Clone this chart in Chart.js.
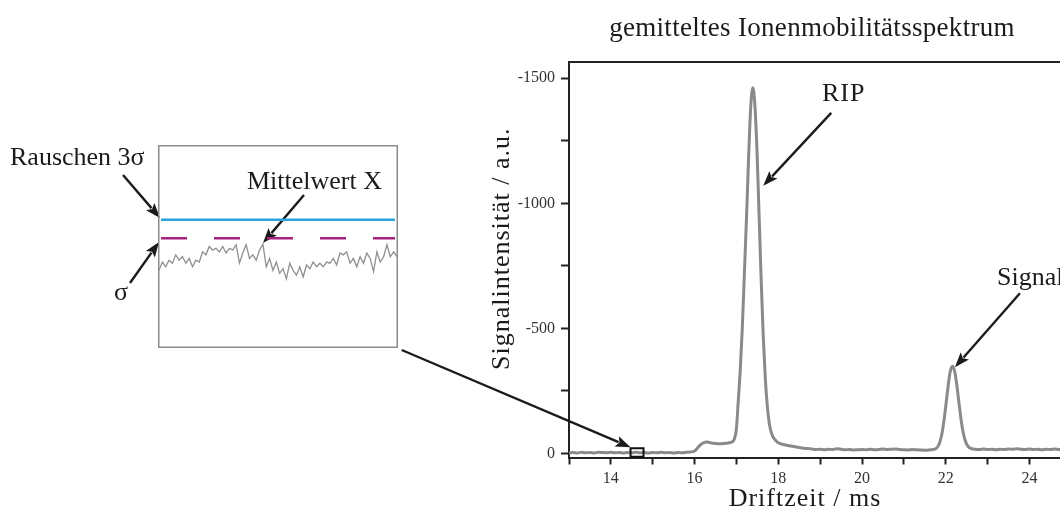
<!DOCTYPE html>
<html lang="de">
<head>
<meta charset="utf-8">
<title>gemitteltes Ionenmobilitätsspektrum</title>
<script src="https://cdn.jsdelivr.net/npm/chart.js@4.4.1/dist/chart.umd.min.js"></script>
<style>
  html, body { margin: 0; padding: 0; background: #fff; }
  #wrap { position: relative; width: 1060px; height: 512px; overflow: hidden; }
  #main { position: absolute; left: 0; top: 0; }
  #inset { position: absolute; left: 158px; top: 145px; }
</style>
</head>
<body>
<div id="wrap">
  <canvas id="main" width="1060" height="512"></canvas>
  <canvas id="inset" width="240" height="203"></canvas>
</div>
<script>
// Averaged ion mobility spectrum: drift time (ms) and signal intensity (a.u.)
const driftTime = [
  13.0, 13.1, 13.2, 13.3, 13.4, 13.5, 13.6, 13.7, 13.8, 13.9,
  14.0, 14.1, 14.2, 14.3, 14.4, 14.5, 14.6, 14.7, 14.8, 14.9,
  15.0, 15.1, 15.2, 15.3, 15.4, 15.5, 15.6, 15.7, 15.8, 15.9,
  16.0, 16.05, 16.1, 16.15, 16.2, 16.25, 16.3, 16.35, 16.4, 16.5,
  16.6, 16.7, 16.8, 16.85, 16.9,
  16.95, 17.0, 17.04, 17.09, 17.14, 17.19, 17.24, 17.29, 17.34, 17.39,
  17.44, 17.49, 17.54, 17.59, 17.64, 17.69, 17.74, 17.79, 17.84, 17.89,
  17.95, 18.0,
  18.1, 18.2, 18.3, 18.4, 18.5, 18.6, 18.7, 18.8, 18.9, 19.0,
  19.1, 19.2, 19.3, 19.4, 19.5, 19.6, 19.7, 19.8, 19.9, 20.0,
  20.1, 20.2, 20.3, 20.4, 20.5, 20.6, 20.7, 20.8, 20.9, 21.0,
  21.1, 21.2, 21.3, 21.4, 21.5, 21.6, 21.65,
  21.7, 21.76, 21.81, 21.86, 21.91, 21.96, 22.01, 22.06, 22.11, 22.16,
  22.21, 22.26, 22.31, 22.36, 22.41, 22.46, 22.51, 22.56, 22.62,
  22.7, 22.8, 22.9, 23.0, 23.1, 23.2, 23.3, 23.4, 23.5, 23.6,
  23.7, 23.8, 23.9, 24.0, 24.1, 24.2, 24.3, 24.4, 24.5, 24.6,
  24.7, 24.8
];
const intensity = [
  -3, -4, -2, -5, -3, -4, -2, -5, -4, -3,
  -5, -3, -4, -2, -4, -3, -5, -3, -4, -2,
  -4, -3, -5, -3, -4, -2, -4, -3, -5, -6,
  -10, -18, -28, -36, -42, -45, -46, -44, -42, -40,
  -39, -40, -42, -44, -47,
  -58, -100, -200, -330, -500, -720, -940, -1180, -1380, -1462,
  -1395, -1215, -960, -700, -470, -300, -185, -115, -80, -62,
  -50, -43,
  -37, -33, -30, -27, -24, -21, -20, -18, -16, -17,
  -15, -17, -16, -19, -17, -15, -16, -14, -15, -16,
  -15, -17, -15, -16, -18, -16, -17, -18, -16, -15,
  -14, -16, -15, -14, -13, -14, -15,
  -16, -19, -27, -46, -80, -134, -202, -273, -329, -349,
  -331, -280, -211, -144, -90, -55, -34, -24, -19,
  -17, -16, -18, -16, -17, -15, -17, -16, -18, -17,
  -19, -17, -16, -18, -16, -17, -15, -17, -16, -18,
  -16, -17
];

// Axis ranges and tick layout
const driftRange = [13, 24.73];
const intensityRange = [-1565, 16];
const driftTickStep = 1;
const driftLabelStep = 2;
const intensityTickStep = 250;
const intensityLabelStep = 500;

// Baseline window shown enlarged in the noise panel (drift time, intensity)
const zoomDrift = [14.47, 14.78];
const zoomIntensity = [-21, 13];

// Noise trace inside the enlarged window
const noiseValues = [
  0.0, -1.4, -0.6, -1.7, -1.2, -2.6, -1.7, -2.3, -1.2, -2.0,
  -0.6, -1.7, -1.4, -3.1, -2.6, -4.0, -3.4, -3.7, -3.1, -4.0,
  -2.9, -3.7, -3.4, -4.3, -1.2, -2.9, -4.3, -2.0, -2.6, -1.7,
  -3.4, -4.4, -0.6, -2.0, 0.0, -1.4, 0.5, -0.3, 1.4, -1.2,
  0.0, 0.8, -0.6, 1.1, -0.9, -0.3, -1.4, -0.6, -1.2, -0.6,
  -1.4, -1.2, -2.0, -0.9, -2.9, -2.6, -3.1, -1.2, -2.0, -0.6,
  -2.3, -1.2, -2.9, -2.0, 0.2, -3.1, -1.4, -2.3, -4.3, -2.3,
  -3.1, -2.3
];
const meanLevel = -5.4;       // Mittelwert X
const threeSigmaLevel = -8.5; // Rauschen 3σ

const SERIF = '"Liberation Serif", "DejaVu Serif", "Times New Roman", serif';
const INK = '#1b1b1b';

function drawArrow(ctx, x1, y1, x2, y2) {
  const ang = Math.atan2(y2 - y1, x2 - x1);
  const head = 15, half = 5.5;
  const bx = x2 - head * Math.cos(ang), by = y2 - head * Math.sin(ang);
  ctx.save();
  ctx.strokeStyle = INK;
  ctx.fillStyle = INK;
  ctx.lineWidth = 2.4;
  ctx.lineCap = 'butt';
  ctx.beginPath();
  ctx.moveTo(x1, y1);
  ctx.lineTo(bx + 2 * Math.cos(ang), by + 2 * Math.sin(ang));
  ctx.stroke();
  ctx.beginPath();
  ctx.moveTo(x2, y2);
  ctx.lineTo(bx + half * Math.sin(ang), by - half * Math.cos(ang));
  ctx.lineTo(bx + 3 * Math.cos(ang), by + 3 * Math.sin(ang));
  ctx.lineTo(bx - half * Math.sin(ang), by + half * Math.cos(ang));
  ctx.closePath();
  ctx.fill();
  ctx.restore();
}

function drawText(ctx, text, x, y, size, align, rotate, spacing) {
  ctx.save();
  ctx.fillStyle = INK;
  ctx.font = size + 'px ' + SERIF;
  ctx.textAlign = align || 'left';
  ctx.textBaseline = 'alphabetic';
  if (spacing) ctx.letterSpacing = spacing + 'px';
  ctx.translate(x, y);
  if (rotate) ctx.rotate(rotate);
  ctx.fillText(text, 0, 0);
  ctx.restore();
}

// Frame line on top, titles, zoom window marker and annotation arrows
const decorations = {
  id: 'decorations',
  afterDatasetsDraw(chart) {
    const { ctx, chartArea, scales } = chart;
    const xs = scales.x, ys = scales.y;
    ctx.save();
    ctx.strokeStyle = '#222';
    ctx.lineWidth = 2;
    ctx.beginPath();
    ctx.moveTo(chartArea.left - 1, chartArea.top);
    ctx.lineTo(chart.width, chartArea.top);
    ctx.stroke();

    // marker for the enlarged baseline window
    const bx1 = xs.getPixelForValue(zoomDrift[0]);
    const bx2 = xs.getPixelForValue(zoomDrift[1]);
    const by1 = ys.getPixelForValue(zoomIntensity[0]);
    const by2 = ys.getPixelForValue(zoomIntensity[1]);
    ctx.strokeStyle = '#111';
    ctx.lineWidth = 2;
    ctx.strokeRect(bx1, by1, bx2 - bx1, by2 - by1);
    ctx.restore();

    drawText(ctx, 'gemitteltes Ionenmobilitätsspektrum', 812, 36, 27, 'center', 0, 0.3);
    drawText(ctx, 'Driftzeit / ms', 805, 506, 26, 'center', 0, 1);
    drawText(ctx, 'Signalintensität / a.u.', 509, 370, 26, 'left', -Math.PI / 2, 1);

    // peak labels
    drawText(ctx, 'RIP', 822, 101, 26, 'left', 0, 1);
    drawText(ctx, 'Signal', 997, 285, 26, 'left');
    drawArrow(ctx, xs.getPixelForValue(17.64) + 68, ys.getPixelForValue(-1070) - 73,
              xs.getPixelForValue(17.64), ys.getPixelForValue(-1070));
    drawArrow(ctx, xs.getPixelForValue(22.22) + 65, ys.getPixelForValue(-345) - 74,
              xs.getPixelForValue(22.22), ys.getPixelForValue(-345));
    drawArrow(ctx, 401.7, 350, bx1, by1 - 1);

    // noise panel labels
    drawText(ctx, 'Rauschen 3σ', 10, 165, 26, 'left');
    drawText(ctx, 'Mittelwert X', 247, 189, 26, 'left');
    drawText(ctx, 'σ', 114, 300, 26, 'left');
    drawArrow(ctx, 123, 175, 160, 218);
    drawArrow(ctx, 130, 283, 159, 242);
    drawArrow(ctx, 304, 195, 263, 243);
  }
};

const tickFont = { family: SERIF, size: 16 };

new Chart(document.getElementById('main'), {
  type: 'line',
  data: {
    datasets: [{
      data: driftTime.map((t, i) => ({ x: t, y: intensity[i] })),
      borderColor: '#8a8a8a',
      borderWidth: 3,
      pointRadius: 0,
      cubicInterpolationMode: 'monotone',
      fill: false
    }]
  },
  options: {
    responsive: false,
    animation: false,
    devicePixelRatio: 1,
    layout: { padding: { top: 62, left: 0, right: 0, bottom: 0 } },
    plugins: { legend: { display: false }, tooltip: { enabled: false }, title: { display: false } },
    scales: {
      x: {
        type: 'linear',
        min: driftRange[0],
        max: driftRange[1],
        afterFit(s) { s.height = 54.5; },
        ticks: {
          stepSize: driftTickStep,
          includeBounds: false,
          autoSkip: false,
          maxRotation: 0,
          padding: 5,
          color: '#333',
          font: tickFont,
          callback: v => (v % driftLabelStep === 0 ? String(v) : '')
        },
        grid: { drawOnChartArea: false, drawTicks: true, tickLength: 7, tickColor: '#222', tickWidth: 2 },
        border: { display: true, color: '#222', width: 2 }
      },
      y: {
        min: intensityRange[0],
        max: intensityRange[1],
        reverse: true,
        afterFit(s) { s.width = 569; },
        ticks: {
          stepSize: intensityTickStep,
          includeBounds: false,
          autoSkip: false,
          padding: 6,
          color: '#333',
          font: tickFont,
          callback: v => (v % intensityLabelStep === 0 ? String(v) : '')
        },
        grid: { drawOnChartArea: false, drawTicks: true, tickLength: 8, tickColor: '#222', tickWidth: 2 },
        border: { display: true, color: '#222', width: 2 }
      }
    }
  },
  plugins: [decorations]
});

// Enlarged baseline window: noise trace with mean and 3σ levels
const levelLines = {
  id: 'levelLines',
  beforeDatasetsDraw(chart) {
    const { ctx, chartArea, scales } = chart;
    const y3 = scales.y.getPixelForValue(threeSigmaLevel);
    const ym = scales.y.getPixelForValue(meanLevel);
    ctx.save();
    ctx.lineWidth = 2.5;
    ctx.strokeStyle = '#2ba3dc';
    ctx.beginPath();
    ctx.moveTo(chartArea.left + 2, y3);
    ctx.lineTo(chartArea.right - 2, y3);
    ctx.stroke();
    ctx.strokeStyle = '#a4217f';
    ctx.setLineDash([26, 27]);
    ctx.beginPath();
    ctx.moveTo(chartArea.left + 2, ym);
    ctx.lineTo(chartArea.right - 2, ym);
    ctx.stroke();
    ctx.restore();
  },
  afterDraw(chart) {
    const { ctx } = chart;
    ctx.save();
    ctx.strokeStyle = '#8c8c8c';
    ctx.lineWidth = 1.5;
    ctx.strokeRect(0.75, 0.75, chart.width - 1.5, chart.height - 1.5);
    ctx.restore();
  }
};

new Chart(document.getElementById('inset'), {
  type: 'line',
  data: {
    labels: noiseValues.map((_, i) => i),
    datasets: [{
      data: noiseValues,
      borderColor: '#8f8f8f',
      borderWidth: 1.3,
      pointRadius: 0,
      tension: 0,
      fill: false
    }]
  },
  options: {
    responsive: false,
    animation: false,
    devicePixelRatio: 1,
    layout: { padding: { left: 1, right: 1, top: 0, bottom: 0 } },
    plugins: { legend: { display: false }, tooltip: { enabled: false } },
    scales: {
      x: { display: false, offset: false },
      y: { display: false, min: zoomIntensity[0], max: zoomIntensity[1], reverse: true }
    }
  },
  plugins: [levelLines]
});
</script>
</body>
</html>
